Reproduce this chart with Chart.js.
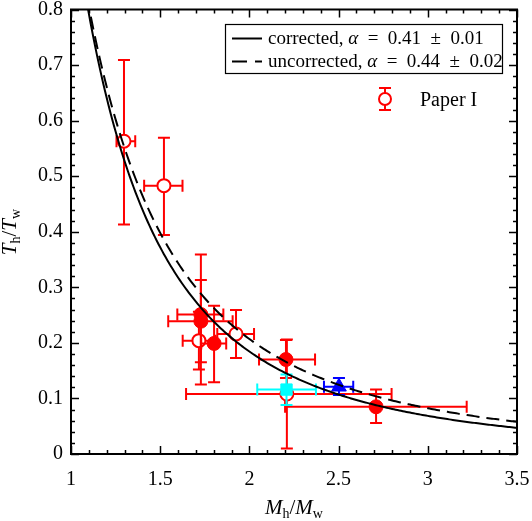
<!DOCTYPE html>
<html><head><meta charset="utf-8">
<script src="https://cdn.jsdelivr.net/npm/chart.js@4/dist/chart.umd.min.js"></script>
<style>html,body{margin:0;padding:0;background:#fff;}#wrap{width:532px;height:521px;position:relative;}</style>
</head><body><div id="wrap"><canvas id="c"></canvas></div>
<script>
// ---- fit parameters (from legend) ----
const alphaCorrected = 0.41;
const alphaUncorrected = 0.44;

// ---- tick labels ----
const xTickValues = [1, 1.5, 2, 2.5, 3, 3.5];
const xTickLabels = ['1', '1.5', '2', '2.5', '3', '3.5'];
const yTickValues = [0, 0.1, 0.2, 0.3, 0.4, 0.5, 0.6, 0.7, 0.8];
const yTickLabels = ['0', '0.1', '0.2', '0.3', '0.4', '0.5', '0.6', '0.7', '0.8'];

// ---- Paper I (open red circles) ----
const paperX   = [1.297, 1.521, 1.717, 1.925, 2.210];
const paperY   = [0.563, 0.483, 0.204, 0.216, 0.108];
const paperXLo = [1.255, 1.410, 1.626, 1.820, 1.645];
const paperXHi = [1.360, 1.625, 1.810, 2.026, 2.797];
const paperYLo = [0.413, 0.394, 0.152, 0.173, 0.010];
const paperYHi = [0.709, 0.569, 0.256, 0.259, 0.206];

// ---- filled red circles ----
const redX   = [1.728, 1.728, 1.802, 2.205, 2.710];
const redY   = [0.251, 0.239, 0.199, 0.170, 0.085];
const redXLo = [1.596, 1.545, 1.730, 2.054, 2.200];
const redXHi = [1.854, 1.906, 1.870, 2.368, 3.218];
const redYLo = [0.125, 0.165, 0.129, 0.137, 0.056];
const redYHi = [0.359, 0.313, 0.267, 0.205, 0.116];

// ---- cyan square ----
const cyanX = [2.208], cyanY = [0.116];
const cyanXLo = [2.044], cyanXHi = [2.373], cyanYLo = [0.088], cyanYHi = [0.143];

// ---- blue triangle ----
const blueX = [2.502], blueY = [0.121];
const blueXLo = [2.418], blueXHi = [2.582], blueYLo = [0.106], blueYHi = [0.137];

// model curves T_h/T_w = (M_h/M_w)^(-1/alpha)
const curveX = [];
for (let v = 1.0; v <= 3.5001; v += 0.01) curveX.push(+v.toFixed(3));
const curve = a => curveX.map(x => ({x, y: Math.pow(x, -1 / a)}));

const pts = (xs, ys) => xs.map((x, i) => ({x, y: ys[i]}));

const SERIF = '"Liberation Serif", "DejaVu Serif", serif';
const RED = '#ff0000';

const errorBars = {
  id: 'errorBars',
  beforeDatasetDraw(chart, args) {
    const ds = chart.data.datasets[args.index];
    if (!ds.err) return;
    const {ctx} = chart, xs = chart.scales.x, ys = chart.scales.y, c = 6;
    ctx.save();
    ctx.strokeStyle = ds.errColor; ctx.lineWidth = 2; ctx.setLineDash([]);
    ds.data.forEach((p, i) => {
      const px = xs.getPixelForValue(p.x), py = ys.getPixelForValue(p.y);
      const xl = xs.getPixelForValue(ds.err.xLo[i]), xh = xs.getPixelForValue(ds.err.xHi[i]);
      const yl = ys.getPixelForValue(ds.err.yLo[i]), yh = ys.getPixelForValue(ds.err.yHi[i]);
      ctx.beginPath();
      ctx.moveTo(xl, py); ctx.lineTo(xh, py);
      ctx.moveTo(px, yl); ctx.lineTo(px, yh);
      ctx.moveTo(xl, py - c); ctx.lineTo(xl, py + c);
      ctx.moveTo(xh, py - c); ctx.lineTo(xh, py + c);
      ctx.moveTo(px - c, yl); ctx.lineTo(px + c, yl);
      ctx.moveTo(px - c, yh); ctx.lineTo(px + c, yh);
      ctx.stroke();
    });
    ctx.restore();
  }
};

function drawParts(ctx, x, y, parts, align) {
  let w = 0;
  parts.forEach(p => { ctx.font = p.font; p.w = ctx.measureText(p.t).width; w += p.w; });
  let cx = align === 'center' ? x - w / 2 : x;
  parts.forEach(p => { ctx.font = p.font; ctx.fillText(p.t, cx, y + (p.dy || 0)); cx += p.w; });
}

const decor = {
  id: 'decor',
  afterDraw(chart) {
    const {ctx, chartArea: a} = chart, xs = chart.scales.x, ys = chart.scales.y;
    ctx.save();
    ctx.strokeStyle = '#000'; ctx.fillStyle = '#000'; ctx.setLineDash([]);
    // frame
    ctx.lineWidth = 2;
    ctx.strokeRect(a.left, a.top, a.right - a.left, a.bottom - a.top);
    // ticks
    ctx.lineWidth = 1.5;
    ctx.beginPath();
    for (let i = 0; i <= 25; i++) {
      const v = 1 + i * 0.1, px = Math.round(xs.getPixelForValue(v)) + 0.5;
      const L = (i % 5 === 0) ? 8 : 4;
      ctx.moveTo(px, a.bottom); ctx.lineTo(px, a.bottom - L);
      ctx.moveTo(px, a.top); ctx.lineTo(px, a.top + L);
    }
    for (let i = 0; i <= 40; i++) {
      const v = i * 0.02, py = Math.round(ys.getPixelForValue(v)) + 0.5;
      const L = (i % 5 === 0) ? 8 : 4;
      ctx.moveTo(a.left, py); ctx.lineTo(a.left + L, py);
      ctx.moveTo(a.right, py); ctx.lineTo(a.right - L, py);
    }
    ctx.stroke();

    // legend box
    ctx.lineWidth = 1.2;
    ctx.strokeRect(225.5, 24.5, 277, 49);
    ctx.lineWidth = 2;
    ctx.beginPath(); ctx.moveTo(232, 38.5); ctx.lineTo(262, 38.5); ctx.stroke();
    ctx.setLineDash([15, 8]);
    ctx.beginPath(); ctx.moveTo(232, 61.5); ctx.lineTo(262, 61.5); ctx.stroke();
    ctx.setLineDash([]);
    ctx.textBaseline = 'alphabetic'; ctx.textAlign = 'left';
    const fN = '19px ' + SERIF, fI = 'italic 19px ' + SERIF;
    drawParts(ctx, 268, 44, [{t: 'corrected, ', font: fN}, {t: 'α', font: fI}, {t: '\u2002=\u20020.41\u2002±\u20020.01', font: fN}]);
    drawParts(ctx, 268, 67, [{t: 'uncorrected, ', font: fN}, {t: 'α', font: fI}, {t: '\u2002=\u20020.44\u2002±\u20020.02', font: fN}]);
    // Paper I entry
    ctx.strokeStyle = RED; ctx.lineWidth = 2;
    ctx.beginPath();
    ctx.moveTo(385, 88); ctx.lineTo(385, 110);
    ctx.moveTo(379, 88); ctx.lineTo(391, 88);
    ctx.moveTo(379, 110); ctx.lineTo(391, 110);
    ctx.stroke();
    ctx.beginPath(); ctx.arc(385, 99, 6, 0, Math.PI * 2);
    ctx.fillStyle = '#fff'; ctx.fill(); ctx.stroke();
    ctx.fillStyle = '#000';
    ctx.font = '20px ' + SERIF;
    ctx.fillText('Paper I', 420, 106);

    // axis titles
    const big = 'italic 21px ' + SERIF, sub = '14px ' + SERIF, nrm = '21px ' + SERIF;
    drawParts(ctx, 294, 514, [{t: 'M', font: big}, {t: 'h', font: sub, dy: 4}, {t: '/', font: nrm},
      {t: 'M', font: big}, {t: 'w', font: sub, dy: 4}], 'center');
    ctx.translate(16, 232); ctx.rotate(-Math.PI / 2);
    drawParts(ctx, 0, 0, [{t: 'T', font: big}, {t: 'h', font: sub, dy: 4}, {t: '/', font: nrm},
      {t: 'T', font: big}, {t: 'w', font: sub, dy: 4}], 'center');
    ctx.restore();
  }
};

new Chart(document.getElementById('c'), {
  type: 'scatter',
  data: {
    datasets: [
      {label: 'corrected', data: curve(alphaCorrected), showLine: true, pointRadius: 0,
       borderColor: '#000', borderWidth: 2, order: 0},
      {label: 'uncorrected', data: curve(alphaUncorrected), showLine: true, pointRadius: 0,
       borderColor: '#000', borderWidth: 2, borderDash: [13, 7], order: 0},
      {label: 'blue', data: pts(blueX, blueY), pointStyle: 'triangle', pointRadius: 8.5,
       backgroundColor: '#0000ff', borderColor: '#0000ff', borderWidth: 1, order: 1,
       err: {xLo: blueXLo, xHi: blueXHi, yLo: blueYLo, yHi: blueYHi}, errColor: '#0000ff'},
      {label: 'cyan', data: pts(cyanX, cyanY), pointStyle: 'rect', pointRadius: 8,
       backgroundColor: '#00ffff', borderColor: '#00ffff', borderWidth: 1, order: 2,
       err: {xLo: cyanXLo, xHi: cyanXHi, yLo: cyanYLo, yHi: cyanYHi}, errColor: '#00ffff'},
      {label: 'filled', data: pts(redX, redY), pointStyle: 'circle', pointRadius: 7,
       backgroundColor: RED, borderColor: RED, borderWidth: 1, order: 3,
       err: {xLo: redXLo, xHi: redXHi, yLo: redYLo, yHi: redYHi}, errColor: RED},
      {label: 'Paper I', data: pts(paperX, paperY), pointStyle: 'circle', pointRadius: 6.5,
       backgroundColor: '#fff', borderColor: RED, borderWidth: 2, order: 4,
       err: {xLo: paperXLo, xHi: paperXHi, yLo: paperYLo, yHi: paperYHi}, errColor: RED}
    ]
  },
  options: {
    responsive: true, maintainAspectRatio: false, animation: false,
    layout: {padding: {top: 7, right: 15, left: 0, bottom: 0}},
    plugins: {legend: {display: false}, tooltip: {enabled: false}},
    scales: {
      x: {
        type: 'linear', min: 1, max: 3.5,
        grid: {display: false, drawTicks: false}, border: {display: false},
        afterBuildTicks: s => { s.ticks = xTickValues.map(v => ({value: v})); },
        afterFit: s => { s.height = 67; s.paddingLeft = 0; s.paddingRight = 0; },
        ticks: {color: '#000', font: {family: SERIF, size: 20}, padding: 14, maxRotation: 0,
                callback: (v, i) => xTickLabels[i]}
      },
      y: {
        type: 'linear', min: 0, max: 0.8,
        grid: {display: false, drawTicks: false}, border: {display: false},
        afterBuildTicks: s => { s.ticks = yTickValues.map(v => ({value: v})); },
        afterFit: s => { s.width = 71; s.paddingTop = 0; s.paddingBottom = 0; },
        ticks: {color: '#000', font: {family: SERIF, size: 20}, padding: 8,
                callback: (v, i) => yTickLabels[i]}
      }
    }
  },
  plugins: [errorBars, decor]
});
</script></body></html>
